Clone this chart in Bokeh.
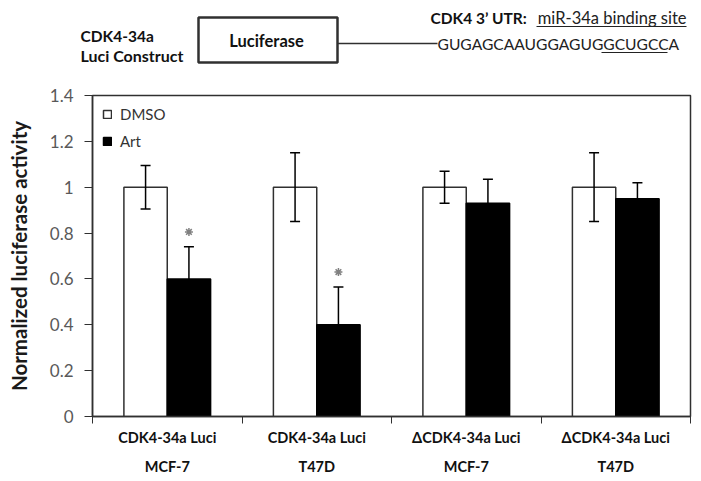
import numpy as np
from bokeh.plotting import figure
from bokeh.layouts import column
from bokeh.models import (Range1d, FixedTicker, ColumnDataSource, Whisker, TeeHead,
                          Legend, LegendItem)
from bokeh.core.properties import value
from bokeh.embed import file_html
from bokeh.resources import INLINE

# ---------------- data ----------------
groups = ["CDK4-34a Luci\nMCF-7", "CDK4-34a Luci\nT47D",
          "ΔCDK4-34a Luci\nMCF-7", "ΔCDK4-34a Luci\nT47D"]
dmso = [1.0, 1.0, 1.0, 1.0]
dmso_err = [0.095, 0.15, 0.07, 0.15]
art = [0.60, 0.40, 0.93, 0.95]
art_err = [0.14, 0.165, 0.105, 0.07]
significant = [True, True, False, False]
y_ticks = [0, 0.2, 0.4, 0.6, 0.8, 1.0, 1.2, 1.4]
y_tick_labels = ["0", "0.2", "0.4", "0.6", "0.8", "1", "1.2", "1.4"]
construct_name = ["CDK4-34a", "Luci Construct"]
box_label = "Luciferase"
utr_title = "CDK4 3\u2019 UTR:"
utr_site = "miR-34a binding site"
sequence = "GUGAGCAAUGGAGUGGCUGCCA"

FONT = "Lato"
DARK = "#303030"
W = 700
HEAD_H = 80
MAIN_H = 400

# ---------------- header diagram ----------------
h = figure(width=W, height=HEAD_H, x_range=Range1d(0, W), y_range=Range1d(HEAD_H, 0),
           output_backend="svg", toolbar_location=None,
           min_border_left=0, min_border_right=0, min_border_top=0, min_border_bottom=0,
           x_axis_location=None, y_axis_location=None)
h.frame_align = False
h.grid.visible = False
h.outline_line_color = None
h.background_fill_color = "white"
h.border_fill_color = "white"

def htext(x, y, txt, size, bold=False, align="left", color="#111111"):
    h.text(x=[x], y=[y], text=[txt], text_font=value(FONT), text_font_size=size,
           text_font_style="bold" if bold else "normal", text_align=align,
           text_baseline="middle", text_color=color)

htext(80, 35, construct_name[0], "15.5px", bold=True)
htext(80, 55, construct_name[1], "16px", bold=True)
h.quad(left=[198], right=[337], top=[17], bottom=[62], fill_color=None,
       line_color=DARK, line_width=2.5)
htext(266, 40, box_label, "16.5px", bold=True, align="center")
h.segment(x0=[337], y0=[43], x1=[437], y1=[43], line_color=DARK, line_width=1.3)
htext(437, 43, sequence, "15.6px", color="#222222")
h.segment(x0=[601], y0=[52], x1=[667], y1=[52], line_color="#222222", line_width=1)
htext(430, 17, utr_title, "15.5px", bold=True)
htext(686, 17, utr_site, "16.5px", align="right", color="#222222")
h.segment(x0=[536], y0=[26], x1=[686], y1=[26], line_color="#222222", line_width=1)

# ---------------- main chart ----------------
FL, FR, FT, FB = 92, 690, 95, 416   # frame in page pixels
p = figure(width=W, height=MAIN_H, x_range=Range1d(0, 4), y_range=Range1d(0, 1.4),
           output_backend="svg", toolbar_location=None,
           min_border_left=FL, min_border_right=W - FR,
           min_border_top=FT - HEAD_H, min_border_bottom=HEAD_H + MAIN_H - FB)
p.frame_align = False
p.grid.visible = False
p.outline_line_color = DARK
p.outline_line_width = 1.5
p.background_fill_color = "white"
p.border_fill_color = "white"

idx = np.arange(len(groups))
bw = 0.29
xd = idx + 0.5 - bw / 2
xa = idx + 0.5 + bw / 2
src = ColumnDataSource(dict(
    xd=xd, xa=xa, dmso=dmso, art=art,
    dlo=np.array(dmso) - np.array(dmso_err), dhi=np.array(dmso) + np.array(dmso_err),
    alo=np.array(art) - np.array(art_err), ahi=np.array(art) + np.array(art_err)))

rd = p.vbar(x="xd", top="dmso", width=bw, source=src, fill_color="white",
            line_color=DARK, line_width=1.5)
ra = p.vbar(x="xa", top="art", width=bw, source=src, fill_color="black",
            line_color="black", line_width=1.5)

for base, lo, hi in (("xd", "dlo", "dhi"), ("xa", "alo", "ahi")):
    w = Whisker(base=base, lower=lo, upper=hi, source=src, level="overlay",
                line_color="black", line_width=1.5,
                upper_head=TeeHead(size=10, line_width=1.5, line_color="black"),
                lower_head=TeeHead(size=10, line_width=1.5, line_color="black"))
    p.add_layout(w)

sig_x = [xa[i] for i in range(len(groups)) if significant[i]]
sig_y = [art[i] + art_err[i] + 0.065 for i in range(len(groups)) if significant[i]]
p.scatter(x=sig_x, y=sig_y, marker="asterisk", size=8, line_color="#808080", line_width=1.5)

legend = Legend(items=[LegendItem(label="DMSO", renderers=[rd]),
                       LegendItem(label="Art", renderers=[ra])],
                location="top_left", margin=10, padding=0, spacing=9,
                glyph_width=10, glyph_height=10, label_height=16, label_standoff=8,
                label_text_font=FONT, label_text_font_size="15px",
                label_text_color="#333333",
                border_line_color=None, background_fill_alpha=0)
p.add_layout(legend)

xax = p.xaxis[0]
xax.ticker = FixedTicker(ticks=list(idx + 0.5), minor_ticks=list(range(len(groups) + 1)))
xax.major_label_overrides = {float(i + 0.5): g for i, g in enumerate(groups)}
xax.major_tick_line_color = None
xax.major_tick_out = 0
xax.major_tick_in = 0
xax.minor_tick_line_color = DARK
xax.minor_tick_out = 7
xax.minor_tick_in = 0
xax.axis_line_color = DARK
xax.axis_line_width = 1.5
xax.major_label_standoff = 5
xax.major_label_text_font = FONT
xax.major_label_text_font_style = "bold"
xax.major_label_text_font_size = "14.5px"
xax.major_label_text_color = "#111111"
xax.major_label_text_line_height = 1.72

yax = p.yaxis[0]
yax.ticker = FixedTicker(ticks=y_ticks, minor_ticks=[])
yax.major_label_overrides = {float(t): l for t, l in zip(y_ticks, y_tick_labels)}
yax.major_tick_line_color = DARK
yax.major_tick_out = 8
yax.major_tick_in = 0
yax.minor_tick_line_color = None
yax.axis_line_color = DARK
yax.axis_line_width = 1.5
yax.major_label_standoff = 11
yax.major_label_text_font = FONT
yax.major_label_text_font_size = "17px"
yax.major_label_text_color = "#595959"
yax.axis_label = "Normalized luciferase activity"
yax.axis_label_text_font = FONT
yax.axis_label_text_font_style = "bold"
yax.axis_label_text_font_size = "20.5px"
yax.axis_label_text_color = "#1a1a1a"
yax.axis_label_standoff = 16

layout = column(h, p)
open("out.html", "w").write(file_html(layout, INLINE))
